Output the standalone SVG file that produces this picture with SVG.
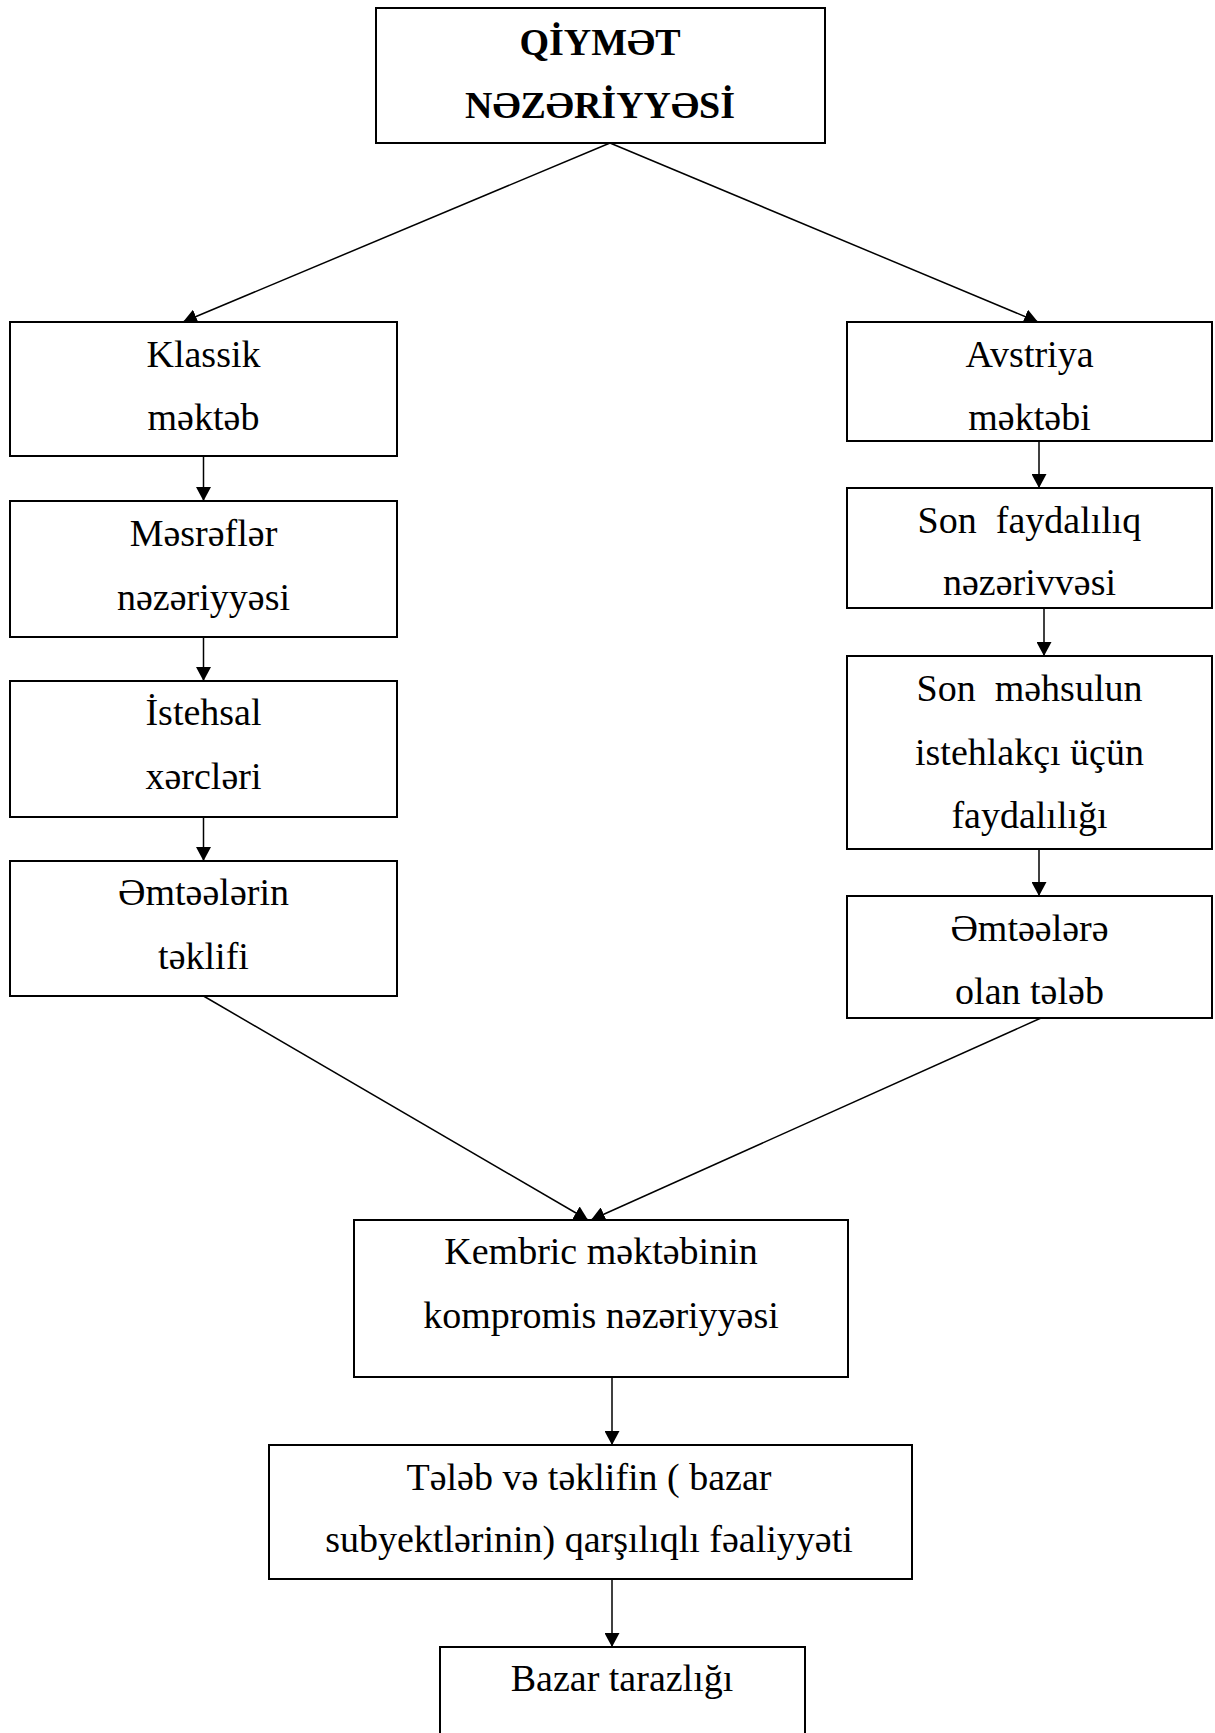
<svg xmlns="http://www.w3.org/2000/svg" width="1215" height="1733" viewBox="0 0 1215 1733">
<style>
  .box { fill: #ffffff; stroke: #000000; stroke-width: 2; }
  .t { font-family: "Liberation Serif", "Times New Roman", serif; font-size: 38px; fill: #000000; text-anchor: middle; white-space: pre; }
  .tb { font-weight: bold; }
  .edge { stroke: #000000; stroke-width: 1.5; fill: none; marker-end: url(#arrow); }
</style>
<defs>
  <marker id="arrow" markerUnits="userSpaceOnUse" markerWidth="14" markerHeight="15" refX="14" refY="7.5" orient="auto" viewBox="0 0 14 15">
    <path d="M0,0 L14,7.5 L0,15 z" fill="#000000"/>
  </marker>
</defs>
<rect x="0" y="0" width="1215" height="1733" fill="#ffffff"/>
<g id="connectors">
  <line class="edge" x1="610" y1="143" x2="183" y2="322"/>
  <line class="edge" x1="610" y1="143" x2="1038" y2="322"/>
  <line class="edge" x1="203.5" y1="456" x2="203.5" y2="501"/>
  <line class="edge" x1="203.5" y1="637" x2="203.5" y2="681"/>
  <line class="edge" x1="203.5" y1="817" x2="203.5" y2="861"/>
  <line class="edge" x1="1039" y1="441" x2="1039" y2="488"/>
  <line class="edge" x1="1044" y1="608" x2="1044" y2="656"/>
  <line class="edge" x1="1039" y1="849" x2="1039" y2="896"/>
  <line class="edge" x1="203.5" y1="996" x2="588" y2="1220"/>
  <line class="edge" x1="1041" y1="1018" x2="591" y2="1220"/>
  <line class="edge" x1="612" y1="1377" x2="612" y2="1445"/>
  <line class="edge" x1="612" y1="1579" x2="612" y2="1647"/>
</g>
<g id="n-qiymet">
  <rect class="box" x="376" y="8" width="449" height="135"/>
  <text class="t tb" x="600" y="55">QİYMƏT</text>
  <text class="t tb" x="600" y="118">NƏZƏRİYYƏSİ</text>
</g>
<g id="n-klassik">
  <rect class="box" x="10" y="322" width="387" height="134"/>
  <text class="t" x="203.5" y="367">Klassik</text>
  <text class="t" x="203.5" y="430">məktəb</text>
</g>
<g id="n-mesrefler">
  <rect class="box" x="10" y="501" width="387" height="136"/>
  <text class="t" x="203.5" y="546">Məsrəflər</text>
  <text class="t" x="203.5" y="610">nəzəriyyəsi</text>
</g>
<g id="n-istehsal">
  <rect class="box" x="10" y="681" width="387" height="136"/>
  <text class="t" x="203.5" y="725">İstehsal</text>
  <text class="t" x="203.5" y="789">xərcləri</text>
</g>
<g id="n-teklif">
  <rect class="box" x="10" y="861" width="387" height="135"/>
  <text class="t" x="203.5" y="905">Əmtəələrin</text>
  <text class="t" x="203.5" y="969">təklifi</text>
</g>
<g id="n-avstriya">
  <rect class="box" x="847" y="322" width="365" height="119"/>
  <text class="t" x="1029.5" y="367">Avstriya</text>
  <text class="t" x="1029.5" y="430">məktəbi</text>
</g>
<g id="n-sonfaydali">
  <rect class="box" x="847" y="488" width="365" height="120"/>
  <text class="t" x="1029.5" y="533" xml:space="preserve">Son  faydalılıq</text>
  <text class="t" x="1029.5" y="595">nəzərivvəsi</text>
</g>
<g id="n-sonmehsul">
  <rect class="box" x="847" y="656" width="365" height="193"/>
  <text class="t" x="1029.5" y="701" xml:space="preserve">Son  məhsulun</text>
  <text class="t" x="1029.5" y="765">istehlakçı üçün</text>
  <text class="t" x="1029.5" y="828">faydalılığı</text>
</g>
<g id="n-teleb">
  <rect class="box" x="847" y="896" width="365" height="122"/>
  <text class="t" x="1029.5" y="941">Əmtəələrə</text>
  <text class="t" x="1029.5" y="1004">olan tələb</text>
</g>
<g id="n-kembric">
  <rect class="box" x="354" y="1220" width="494" height="157"/>
  <text class="t" x="601" y="1264">Kembric məktəbinin</text>
  <text class="t" x="601" y="1328">kompromis nəzəriyyəsi</text>
</g>
<g id="n-qarsiliqli">
  <rect class="box" x="269" y="1445" width="643" height="134"/>
  <text class="t" x="589" y="1490">Tələb və təklifin ( bazar</text>
  <text class="t" x="589" y="1552">subyektlərinin) qarşılıqlı fəaliyyəti</text>
</g>
<g id="n-bazar">
  <rect class="box" x="440" y="1647" width="365" height="100"/>
  <text class="t" x="622" y="1691">Bazar tarazlığı</text>
</g>
</svg>
